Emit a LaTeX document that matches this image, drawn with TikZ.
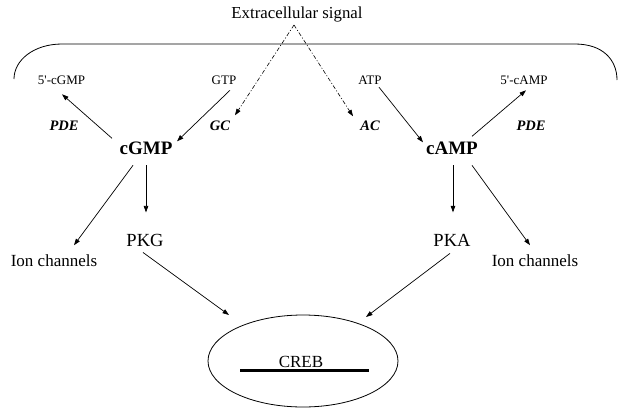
\documentclass[tikz,border=0pt]{standalone}
\usepackage{fontspec}
\setmainfont{Liberation Serif}
\usetikzlibrary{arrows.meta,shapes.geometric}
\tikzset{
  lab/.style={inner sep=0pt, anchor=base},
  small/.style={lab, font=\fontsize{13}{15}\selectfont},
  enz/.style={lab, font=\fontsize{14.5}{16}\selectfont\bfseries\itshape},
  cyc/.style={lab, font=\fontsize{19}{22}\selectfont\bfseries},
  kin/.style={lab, font=\fontsize{18.5}{21}\selectfont},
  med/.style={lab, font=\fontsize{17}{19}\selectfont},
  arr/.style={draw, line width=0.7pt, -{Triangle[length=6.5pt,width=4.5pt]}},
  dsh/.style={draw, line width=0.6pt, dash pattern=on 4pt off 2pt on 1pt off 2pt, -{Triangle[length=6.5pt,width=4.5pt]}},
  brace/.style={draw, line width=0.8pt},
  oval/.style={draw, line width=0.8pt, ellipse, minimum width=190pt, minimum height=92pt, inner sep=0pt}
}
\begin{document}
\begin{tikzpicture}[x=1pt,y=-1pt]
\useasboundingbox (0,0) rectangle (619,408);
% title
\node[lab, font=\fontsize{16.8}{19}\selectfont] (sig) at (297,18.5) {Extracellular signal};
\coordinate (apex) at (294,25);
% membrane bracket
\draw[brace] (14,79) .. controls (14,60) and (34,44) .. (62,44) -- (575,44) .. controls (603,44) and (617,60) .. (617,80);
% small labels
\node[small] (cGMPd) at (61.5,84.5) {5\textquotesingle-cGMP};
\node[small] (GTP) at (224,84.5) {GTP};
\node[small] (ATP) at (370,84.5) {ATP};
\node[small] (cAMPd) at (524,84.5) {5\textquotesingle-cAMP};
% enzymes
\node[enz] (PDEl) at (64,130) {PDE};
\node[enz] (GC) at (220,130) {GC};
\node[enz] (AC) at (370,130) {AC};
\node[enz] (PDEr) at (531,130) {PDE};
% cyclic nucleotides
\node[cyc] (cGMP) at (146,154.5) {cGMP};
\node[cyc] (cAMP) at (452,154.5) {cAMP};
% kinases
\node[kin] (PKG) at (145,246.5) {PKG};
\node[kin] (PKA) at (452,246.5) {PKA};
% ion channels
\node[med] (ionL) at (54,266) {Ion channels};
\node[med] (ionR) at (535,266) {Ion channels};
% CREB
\node[oval] (creb) at (303,361) {};
\node[med] (crebt) at (301,367) {CREB};
\draw[line width=3pt] ([shift={(-61,3)}]crebt.base) -- ([shift={(68,3)}]crebt.base);
% dashed signal arrows
\draw[dsh] (apex) -- ([shift={(15,-10)}]GC.center);
\draw[dsh] (apex) -- ([shift={(-17,-9)}]AC.center);
% solid arrows
\draw[arr] ([shift={(6,10)}]GTP.center) -- ([shift={(31,-7)}]cGMP.center);
\draw[arr] ([shift={(-34,-10)}]cGMP.center) -- ([shift={(0.5,14)}]cGMPd.center);
\draw[arr] ([shift={(9,7)}]ATP.center) -- ([shift={(-29,-6)}]cAMP.center);
\draw[arr] ([shift={(20,-12)}]cAMP.center) -- ([shift={(2,10)}]cAMPd.center);
\draw[arr] ([shift={(-13,17)}]cGMP.center) -- ([shift={(20,-15)}]ionL.center);
\draw[arr] ([shift={(0,17)}]cGMP.center) -- ([shift={(1,-28)}]PKG.center);
\draw[arr] ([shift={(1,17)}]cAMP.center) -- ([shift={(1,-28)}]PKA.center);
\draw[arr] ([shift={(20,17)}]cAMP.center) -- ([shift={(-5,-15)}]ionR.center);
\draw[arr] ([shift={(-2,12)}]PKG.center) -- ([shift={(-74,-46)}]creb.center);
\draw[arr] ([shift={(-2,13)}]PKA.center) -- ([shift={(63,-44)}]creb.center);
\end{tikzpicture}
\end{document}
